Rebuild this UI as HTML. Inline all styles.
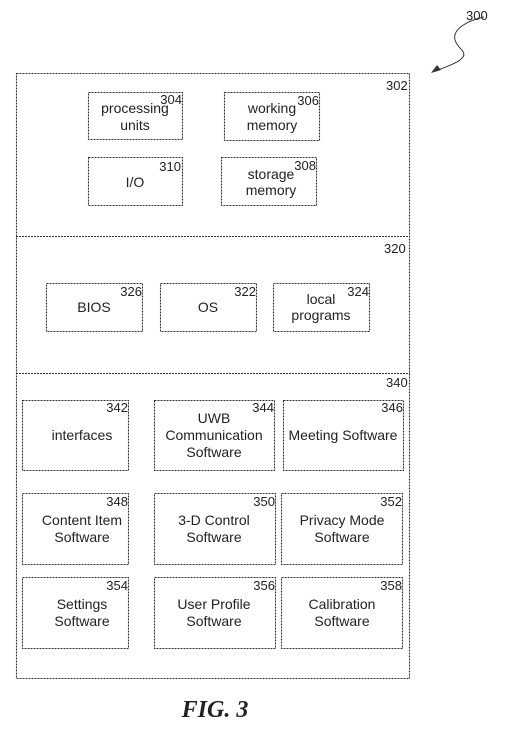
<!DOCTYPE html>
<html><head><meta charset="utf-8"><style>
body{margin:0;background:#fff}
svg text{font-family:"Liberation Sans",sans-serif;font-size:13px;fill:#222}
svg .l text{font-size:14px}
</style></head><body>
<svg width="527" height="726" viewBox="0 0 527 726" xmlns="http://www.w3.org/2000/svg">
<g fill="none" stroke="#333" stroke-width="1.1" stroke-dasharray="2,1">
<rect x="16.5" y="73.5" width="393" height="605"/>
<line x1="16" y1="236.5" x2="410" y2="236.5"/>
<line x1="16" y1="373.5" x2="410" y2="373.5"/>
<rect x="88.5" y="92.5" width="94" height="47"/>
<rect x="224.5" y="92.5" width="95" height="48"/>
<rect x="88.5" y="157.5" width="94" height="48"/>
<rect x="221.5" y="157.5" width="95" height="48"/>
<rect x="46.5" y="283.5" width="96" height="48"/>
<rect x="160.5" y="283.5" width="96" height="48"/>
<rect x="273.5" y="283.5" width="96" height="48"/>
<rect x="22.5" y="400.5" width="106" height="70"/>
<rect x="154.5" y="400.5" width="120" height="70"/>
<rect x="283.5" y="400.5" width="120" height="70"/>
<rect x="22.5" y="493.5" width="106" height="71"/>
<rect x="154.5" y="493.5" width="121" height="71"/>
<rect x="281.5" y="493.5" width="121" height="71"/>
<rect x="22.5" y="577.5" width="106" height="71"/>
<rect x="154.5" y="577.5" width="121" height="71"/>
<rect x="281.5" y="577.5" width="121" height="71"/>
</g>
<path d="M484 17 C470 20 452 28 455 40 C458 50 470 52 460 60 C455 64 445 67 436 71" fill="none" stroke="#333" stroke-width="1"/>
<polygon points="431,73 437,65 441,70" fill="#333"/>
<text x="466" y="20">300</text>
<text x="386" y="90">302</text>
<text x="384" y="253">320</text>
<text x="386" y="387">340</text>
<g text-anchor="end">
<text x="182" y="104">304</text><text x="319" y="105">306</text>
<text x="181" y="171">310</text><text x="316" y="170">308</text>
<text x="142" y="296">326</text><text x="256" y="296">322</text><text x="369" y="296">324</text>
<text x="128" y="412">342</text><text x="274" y="412">344</text><text x="403" y="412">346</text>
<text x="128" y="506">348</text><text x="275" y="506">350</text><text x="402" y="506">352</text>
<text x="128" y="590">354</text><text x="275" y="590">356</text><text x="402" y="590">358</text>
</g>
<g text-anchor="middle" class="l">
<text x="135" y="113">processing</text><text x="135" y="130">units</text>
<text x="272" y="113">working</text><text x="272" y="130">memory</text>
<text x="135" y="187">I/O</text>
<text x="271" y="179">storage</text><text x="271" y="195">memory</text>
<text x="94" y="312">BIOS</text><text x="208" y="312">OS</text>
<text x="321" y="304">local</text><text x="321" y="320">programs</text>
<text x="82" y="440">interfaces</text>
<text x="214" y="423">UWB</text><text x="214" y="440">Communication</text><text x="214" y="457">Software</text>
<text x="343" y="440">Meeting Software</text>
<text x="82" y="525">Content Item</text><text x="82" y="542">Software</text>
<text x="214" y="525">3-D Control</text><text x="214" y="542">Software</text>
<text x="342" y="525">Privacy Mode</text><text x="342" y="542">Software</text>
<text x="82" y="609">Settings</text><text x="82" y="626">Software</text>
<text x="214" y="609">User Profile</text><text x="214" y="626">Software</text>
<text x="342" y="609">Calibration</text><text x="342" y="626">Software</text>
</g>
<text x="215" y="717" text-anchor="middle" style="font-family:'Liberation Serif',serif;font-size:24px;font-style:italic;font-weight:bold">FIG. 3</text>
</svg>
</body></html>
